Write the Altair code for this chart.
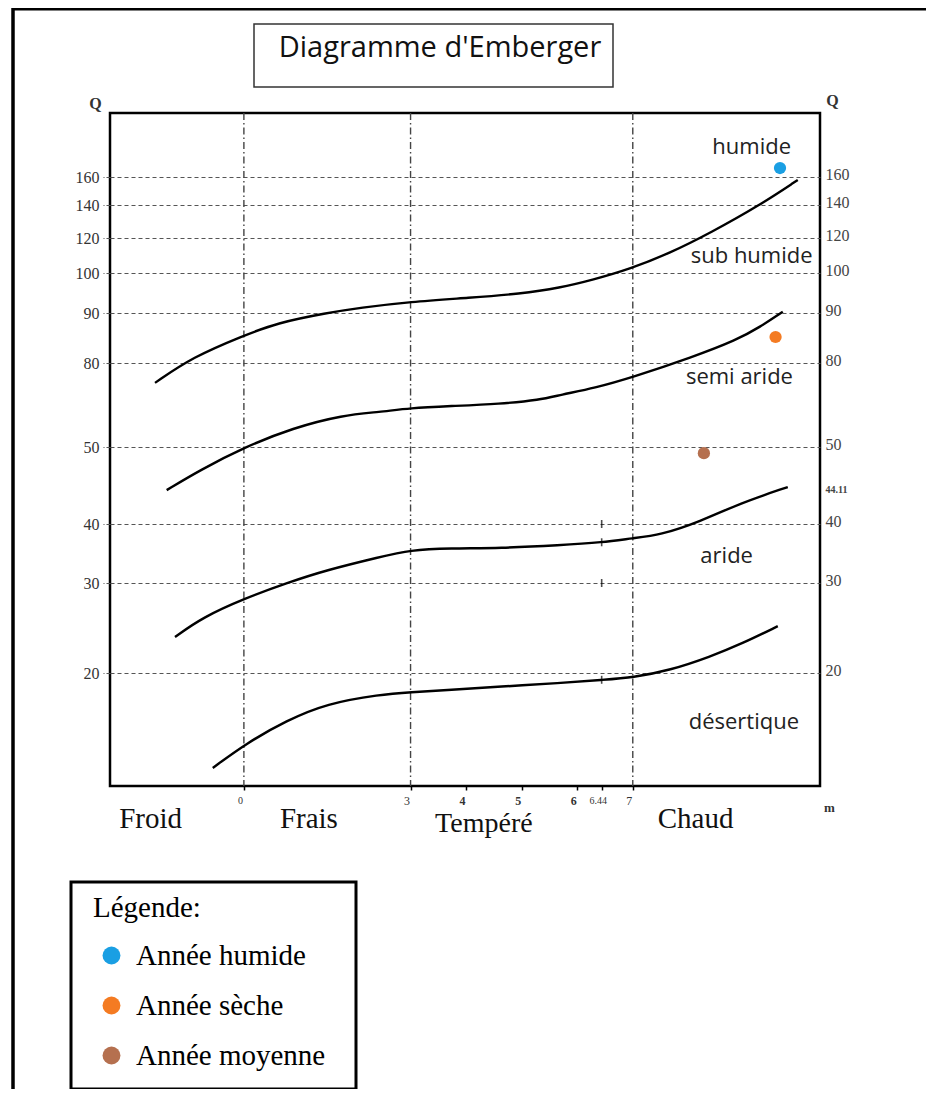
import altair as alt
import pandas as pd

SERIF = "Liberation Serif"
SANS = "Open Sans"

# ---------------- data ----------------
q_ticks = [20, 30, 40, 50, 80, 90, 100, 120, 140, 160]
q_ticks_right = [20, 30, 40, 44.11, 50, 80, 90, 100, 120, 140, 160]
m_ticks = [0, 3, 4, 5, 6, 6.44, 7]
m_limits = [0, 3, 7]

# boundary curves (m, Q)
c1_m = [-1.60, -0.92, -0.02, 0.59, 1.49, 2.09, 2.99, 4.07, 4.97, 5.69, 6.28, 6.95, 7.67, 8.39, 9.29, 9.97]
c1_q = [72.9, 81.2, 85.4, 88.0, 90.0, 91.3, 92.8, 93.8, 94.8, 96.3, 98.3, 102.3, 111.4, 123.0, 140.0, 157.9]

c2_m = [-1.39, -0.79, 0.02, 0.88, 1.78, 2.45, 2.99, 3.71, 4.61, 5.33, 5.69, 6.32, 6.98, 8.08, 8.87, 9.29, 9.70]
c2_q = [44.4, 47.0, 50.0, 56.8, 61.4, 62.5, 63.9, 64.6, 65.4, 66.8, 68.6, 71.1, 74.8, 81.2, 84.6, 87.2, 90.3]

c3_m = [-1.24, -0.74, 0.02, 0.77, 1.49, 2.45, 2.99, 3.71, 4.61, 5.69, 6.46, 7.00, 7.49, 8.21, 8.93, 9.79]
c3_q = [24.0, 26.2, 28.3, 30.0, 32.2, 34.4, 35.6, 35.9, 35.9, 36.4, 36.9, 37.6, 38.1, 40.3, 42.7, 44.8]

c4_m = [-0.56, 0.05, 0.77, 1.49, 2.45, 2.99, 3.71, 4.61, 5.69, 6.46, 7.00, 7.67, 8.39, 8.98, 9.61]
c4_q = [11.6, 13.8, 15.8, 17.3, 18.1, 18.3, 18.5, 18.8, 19.1, 19.4, 19.6, 20.3, 21.8, 23.3, 25.2]

# small hand-drawn marks at m = 6.44
mark644_m = [6.44, 6.44, 6.44, 6.44]
mark644_q = [40, 36.9, 30, 19.4]

years = ["Année humide", "Année sèche", "Année moyenne"]
year_m = [9.65, 9.57, 8.28]
year_q = [165.6, 85.2, 49.2]
year_colors = ["#1a9fe3", "#f47b22", "#b5704f"]

zones = ["humide", "sub humide", "semi aride", "aride", "désertique"]
zone_m = [9.14, 9.14, 8.92, 8.69, 9.00]
zone_q = [178.8, 109.9, 75.1, 34.5, 15.7]

climates = ["Froid", "Frais", "Tempéré", "Chaud"]
climate_m = [-1.68, 1.17, 4.32, 8.13]

# irregular Q axis of the diagram: breakpoints and their height in the frame
q_breaks = [10, 20, 30, 40, 50, 80, 90, 100, 120, 140, 160, 200]
q_pixels = [673, 560, 470, 411, 334, 250, 200, 160, 125, 92, 64, 0]

# ---------------- tables ----------------
rows = []
for name, ms, qs in [("c1", c1_m, c1_q), ("c2", c2_m, c2_q), ("c3", c3_m, c3_q), ("c4", c4_m, c4_q)]:
    for m, q in zip(ms, qs):
        rows.append({"courbe": name, "m": m, "Q": q})
curve_df = pd.DataFrame(rows)
mark_df = pd.DataFrame({"m": mark644_m, "Q": mark644_q})
year_df = pd.DataFrame({"année": years, "m": year_m, "Q": year_q})
zone_df = pd.DataFrame({"zone": zones, "m": zone_m, "Q": zone_q})
climate_df = pd.DataFrame({"climat": climates, "m": climate_m})
limit_df = pd.DataFrame({"m": m_limits})
one = pd.DataFrame({"k": [0]})

# ---------------- scales / axes ----------------
xs = alt.Scale(domain=[-2.41, 10.37], nice=False, zero=False)
ys = alt.Scale(domain=q_breaks, range=q_pixels, nice=False, zero=False)

x_axis = alt.Axis(
    values=m_ticks, labelExpr="'' + datum.value", grid=False, domain=False,
    tickColor="black", tickSize=4, tickWidth=1.5,
    labelFont=SERIF, labelColor="#333",
    labelFontSize={"condition": {"test": "datum.value == 0 || datum.value == 6.44", "value": 10}, "value": 12},
    labelFontWeight={"condition": {"test": "datum.value >= 4 && datum.value <= 6", "value": "bold"}, "value": "normal"},
    labelOffset=-4, labelPadding=5,
    title="m", titleX=719, titleY=21, titleAngle=0, titleFont=SERIF, titleFontSize=13,
    titleFontWeight="bold", titleColor="#333", titleAlign="center", titleBaseline="middle",
)

y_left = alt.Axis(
    orient="left", values=q_ticks, labelExpr="'' + datum.value",
    grid=True, gridDash=[4, 3], gridColor="#555", gridWidth=1.2,
    domain=False, ticks=True, tickSize=7, tickColor="#555", tickWidth=1.2, tickDash=[4, 2],
    labelFont=SERIF, labelFontSize=16, labelColor="#333", labelPadding=4,
    title="Q", titleAngle=0, titleX=-15, titleY=-10, titleFont=SERIF, titleFontSize=16,
    titleFontWeight="bold", titleColor="#333", titleAlign="center", titleBaseline="middle",
)

y_right = alt.Axis(
    orient="right", values=q_ticks_right, labelExpr="'' + datum.value", grid=False,
    domain=False, ticks=False, tickSize=0,
    labelFont=SERIF, labelColor="#444", labelPadding=5, labelOffset=-3,
    labelFontSize={"condition": {"test": "datum.value == 44.11", "value": 10}, "value": 16},
    labelFontWeight={"condition": {"test": "datum.value == 44.11", "value": "bold"}, "value": "normal"},
    title="Q", titleAngle=0, titleX=12, titleY=-13, titleFont=SERIF, titleFontSize=16,
    titleFontWeight="bold", titleColor="#333", titleAlign="center", titleBaseline="middle",
)

X = lambda: alt.X("m:Q", scale=xs, axis=x_axis)

# ---------------- layers ----------------
page_top = alt.Chart(one).mark_rule(color="black", strokeWidth=3).encode(
    x=alt.value(-97), x2=alt.value(816), y=alt.value(-104))
page_left = alt.Chart(one).mark_rule(color="black", strokeWidth=3.5).encode(
    x=alt.value(-97), y=alt.value(-105), y2=alt.value(976))

title_box = alt.Chart(one).mark_rect(fillOpacity=0, stroke="#333", strokeWidth=1.5).encode(
    x=alt.value(144), x2=alt.value(503), y=alt.value(-89), y2=alt.value(-26))
title_text = alt.Chart(one).mark_text(
    text="Diagramme d'Emberger", font=SANS, fontSize=29, color="#111",
    align="center", baseline="alphabetic").encode(x=alt.value(330), y=alt.value(-56))

legend_box = alt.Chart(one).mark_rect(fillOpacity=0, stroke="black", strokeWidth=3).encode(
    x=alt.value(-39), x2=alt.value(246), y=alt.value(769), y2=alt.value(976))

limits = alt.Chart(limit_df).mark_rule(color="#444", strokeWidth=1.4, strokeDash=[7, 3, 1.5, 3]).encode(x=X())

curves = alt.Chart(curve_df).mark_line(color="black", strokeWidth=2.4, interpolate="basis").encode(
    x=X(), y=alt.Y("Q:Q", scale=ys, axis=y_left), detail="courbe:N")

marks644 = alt.Chart(mark_df).mark_tick(color="black", orient="vertical", size=8, thickness=1.6).encode(
    x=X(), y=alt.Y("Q:Q", scale=ys, axis=None))

points = alt.Chart(year_df).mark_circle(size=150, opacity=1).encode(
    x=X(),
    y=alt.Y("Q:Q", scale=ys, axis=y_right),
    color=alt.Color("année:N", scale=alt.Scale(domain=years, range=year_colors),
                    legend=alt.Legend(
                        title="Légende:", orient="none", direction="vertical",
                        legendX=-17, legendY=781, padding=0,
                        titleFont=SERIF, titleFontSize=29, titleFontWeight="normal", titleColor="black",
                        titlePadding=18,
                        labelFont=SERIF, labelFontSize=29, labelColor="black", labelLimit=400,
                        symbolType="circle", symbolSize=320, symbolStrokeWidth=0,
                        symbolOffset=4, labelOffset=10, rowPadding=20)),
)

zone_text = alt.Chart(zone_df).mark_text(font=SANS, fontSize=22, color="#222", align="center", baseline="middle").encode(
    x=X(), y=alt.Y("Q:Q", scale=ys, axis=None), text="zone:N")

climate_text = alt.Chart(climate_df).transform_filter(
    alt.datum.climat != "Tempéré"
).mark_text(font=SERIF, fontSize=29, color="#111", align="center", baseline="alphabetic").encode(
    x=X(), y=alt.value(715), text="climat:N")

climate_text_mid = alt.Chart(climate_df).transform_filter(
    alt.datum.climat == "Tempéré"
).mark_text(font=SERIF, fontSize=28, color="#111", align="center", baseline="alphabetic").encode(
    x=X(), y=alt.value(719), text="climat:N")

chart = alt.layer(
    page_top, page_left, title_box, title_text, legend_box,
    limits, curves, marks644, points, zone_text, climate_text, climate_text_mid,
).resolve_axis(y="independent").properties(
    width=710, height=673,
    padding={"left": 102, "top": 105, "right": 106, "bottom": 303},
    autosize=alt.AutoSizeParams(type="none"),
).configure_view(stroke="black", strokeWidth=2.5)

chart.save("out.html", embed_options={"renderer": "svg", "actions": False})
